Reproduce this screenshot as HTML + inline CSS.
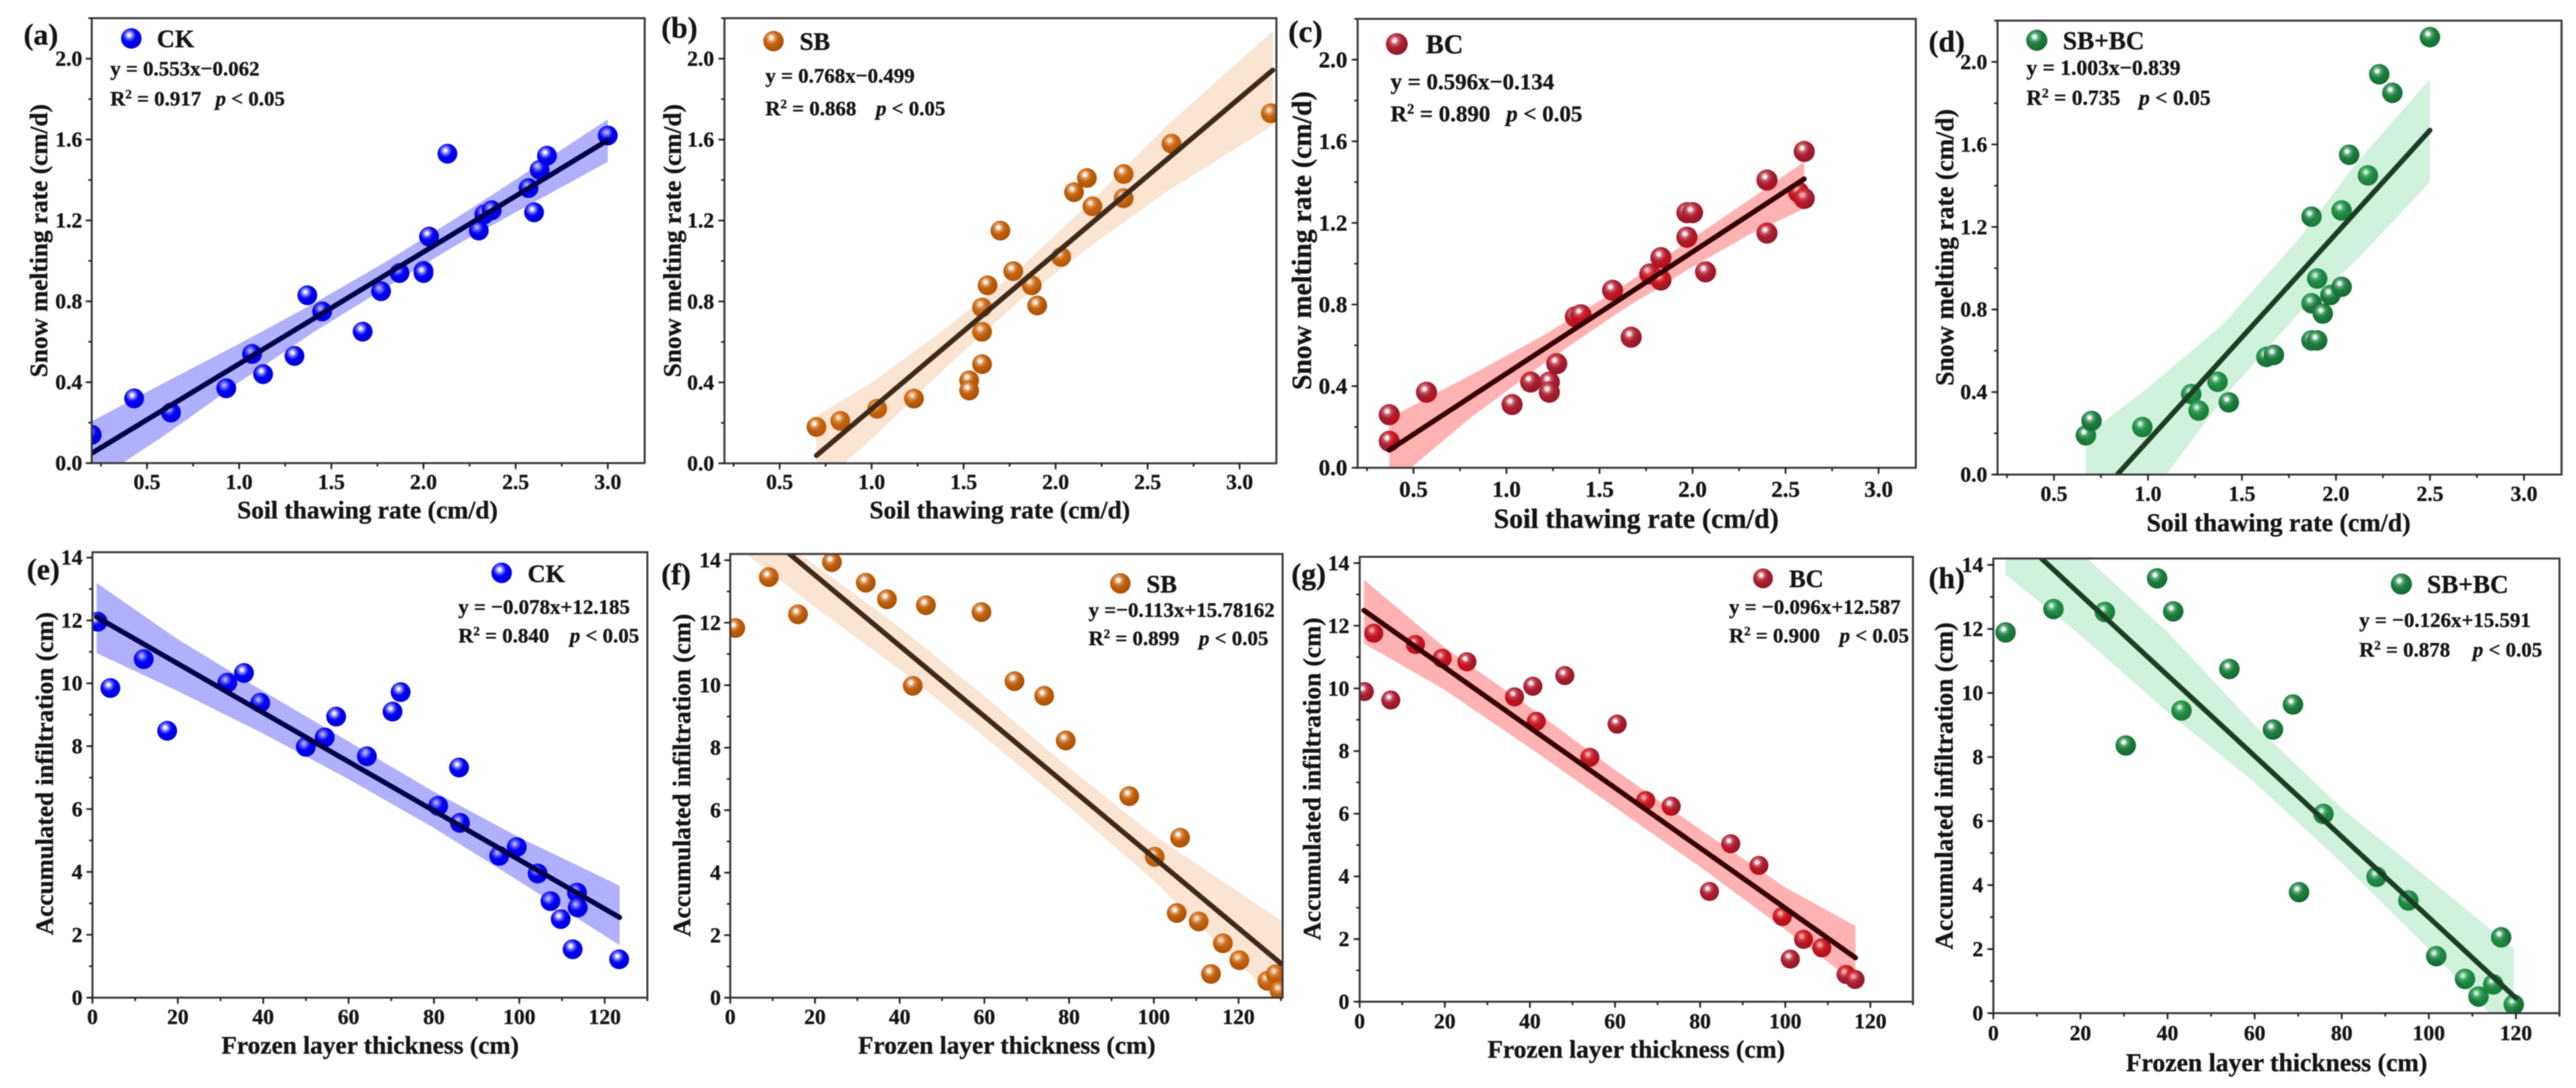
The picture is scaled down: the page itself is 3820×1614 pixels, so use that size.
<!DOCTYPE html>
<html lang="en">
<head>
<meta charset="utf-8">
<title>Snow melting and infiltration regressions</title>
<style>
html,body{margin:0;padding:0;background:#fff;width:3820px;height:1614px;overflow:hidden}
svg{display:block;filter:blur(0.8px)}
text{font-family:"Liberation Serif","Times New Roman",serif;font-weight:bold;fill:#151515;stroke:#151515;stroke-width:0.45px}
</style>
</head>
<body>
<svg id="figure" xmlns="http://www.w3.org/2000/svg" width="3820" height="1614" viewBox="0 0 3820 1614">
<defs id="defs"></defs>
</svg>
<script>
// ---- shared tick labels
const thawTicks = ['0.5','1.0','1.5','2.0','2.5','3.0'];
const meltTicks = ['0.0','0.4','0.8','1.2','1.6','2.0'];
const frozenTicks = ['0','20','40','60','80','100','120'];
const infilTicks = ['0','2','4','6','8','10','12','14'];

// ---- (a) CK
const aX = [0.2,0.43,0.63,0.93,1.07,1.13,1.3,1.37,1.45,1.67,1.77,1.87,2.0,2.0,2.03,2.13,2.3,2.33,2.37,2.57,2.6,2.63,2.67,3.0];
const aY = [0.14,0.32,0.25,0.37,0.54,0.44,0.53,0.83,0.75,0.65,0.85,0.94,0.95,0.94,1.12,1.53,1.15,1.23,1.25,1.36,1.24,1.45,1.52,1.62];
const aBandX = [0.2,0.6,1.0,1.4,1.8,2.2,2.6,3.0];
const aBandHi = [0.207,0.40,0.59,0.787,0.998,1.225,1.461,1.70];
const aBandLo = [-0.10,0.14,0.40,0.645,0.87,1.09,1.29,1.49];
const aFit = [0.553,-0.062];
const aFitRange = [0.2,3.0];

// ---- (b) SB
const bX = [0.7,0.83,1.03,1.23,1.53,1.53,1.6,1.6,1.6,1.63,1.7,1.77,1.87,1.9,2.03,2.1,2.17,2.2,2.37,2.37,2.63,3.17];
const bY = [0.18,0.21,0.27,0.32,0.41,0.36,0.49,0.65,0.77,0.88,1.15,0.95,0.88,0.78,1.02,1.34,1.41,1.27,1.31,1.43,1.58,1.73];
const bBandX = [0.7,1.0,1.4,1.8,2.2,2.6,3.18];
const bBandHi = [0.233,0.40,0.665,0.96,1.30,1.665,2.136];
const bBandLo = [-0.12,0.12,0.47,0.80,1.08,1.34,1.67];
const bFit = [0.768,-0.499];
const bFitRange = [0.7,3.18];

// ---- (c) BC
const cX = [0.37,0.37,0.57,1.03,1.13,1.23,1.23,1.27,1.37,1.4,1.57,1.67,1.77,1.83,1.83,1.97,1.97,2.0,2.07,2.4,2.4,2.57,2.6,2.6];
const cY = [0.13,0.26,0.37,0.31,0.42,0.42,0.37,0.51,0.74,0.75,0.87,0.64,0.95,0.92,1.03,1.13,1.25,1.25,0.96,1.15,1.41,1.35,1.32,1.55];
const cBandX = [0.37,0.8,1.2,1.6,2.0,2.3,2.6];
const cBandHi = [0.244,0.45,0.65,0.875,1.125,1.31,1.50];
const cBandLo = [-0.09,0.24,0.51,0.76,0.985,1.14,1.27];
const cFit = [0.596,-0.134];
const cFitRange = [0.37,2.6];

// ---- (d) SB+BC
const dX = [0.67,0.7,0.97,1.23,1.27,1.37,1.43,1.63,1.67,1.87,1.9,1.87,1.93,1.9,1.97,2.03,1.87,2.03,2.07,2.17,2.23,2.3,2.5];
const dY = [0.19,0.26,0.23,0.39,0.31,0.45,0.35,0.57,0.58,0.65,0.65,0.83,0.78,0.95,0.87,0.91,1.25,1.28,1.55,1.45,1.94,1.85,2.12];
const dBandX = [0.67,1.0,1.4,1.8,2.1,2.5];
const dBandHi = [0.19,0.42,0.73,1.14,1.50,1.917];
const dBandLo = [-0.45,-0.12,0.37,0.78,1.03,1.417];
const dFit = [1.003,-0.839];
const dFitRange = [0.84,2.5];

// ---- (e) CK
const eX = [1.2,4.2,12,17.5,31.6,35.5,39.3,50,54.4,57.1,64.3,70.3,72.2,81,85.9,86.1,95.3,99.4,104.3,107.3,109.7,112.5,113.5,113.7,123.4];
const eY = [11.96,9.85,10.77,8.49,10.02,10.33,9.38,7.98,8.28,8.94,7.68,9.1,9.72,6.1,7.32,5.56,4.51,4.79,3.95,3.07,2.5,1.54,3.34,2.87,1.22];
const eBandX = [1,20,40,60,80,100,123.5];
const eBandHi = [13.19,11.4,9.75,8.15,6.55,5.1,3.56];
const eBandLo = [10.96,9.75,8.4,6.95,5.4,3.7,1.67];
const eFit = [-0.078,12.185];
const eFitRange = [1,123.5];

// ---- (f) SB
const fX = [1.2,9.1,16,24,32,37,43.1,46.2,59.3,67.1,74.1,79.2,94.2,100.2,106.2,105.4,110.6,113.5,116.3,120.2,126.8,128.8,129.7];
const fY = [11.83,13.46,12.27,13.94,13.28,12.75,9.98,12.56,12.34,10.13,9.66,8.23,6.45,4.51,5.12,2.71,2.44,0.76,1.74,1.2,0.54,0.75,0.22];
const fBandX = [0,20,40,60,80,100,130];
const fBandHi = [15.8,13.85,11.85,9.65,7.35,5.2,2.47];
const fBandLo = [14.6,12.5,10.5,8.35,6.1,3.75,-0.2];
const fFit = [-0.113,15.78162];
const fFitRange = [0,130];

// ---- (g) BC
const gX = [1.1,3.3,7.3,13.1,19.4,25.2,36.4,40.7,41.5,48.2,60.5,54.1,67.2,73.2,82.2,87.2,93.8,99.3,101.2,104.3,108.6,114.3,116.4];
const gY = [9.9,11.76,9.63,11.4,10.96,10.85,9.73,10.07,8.95,10.41,8.86,7.8,6.42,6.24,3.52,5.04,4.35,2.72,1.36,1.99,1.72,0.87,0.71];
const gBandX = [1,20,40,60,80,100,116.5];
const gBandHi = [13.47,11.3,9.4,7.4,5.5,3.65,2.42];
const gBandLo = [11.43,9.95,8.1,6.2,4.3,2.3,0.6];
const gFit = [-0.096,12.587];
const gFitRange = [1,116.5];

// ---- (h) SB+BC
const hX = [2.8,13.8,25.6,30.4,37.6,41.3,43.2,54.2,64.2,68.8,70.2,75.8,88,95.3,101.7,108.3,111.4,114.8,116.6,119.5];
const hY = [11.89,12.62,12.53,8.36,13.58,12.55,9.45,10.75,8.86,9.64,3.78,6.22,4.26,3.52,1.78,1.07,0.52,0.9,2.37,0.27];
const hBandX = [2.8,20,40,60,80,100,119.5];
const hBandHi = [16.2,14.4,11.9,9.0,6.4,4.2,2.02];
const hBandLo = [13.7,11.8,9.4,7.2,4.7,2.0,-0.8];
const hFit = [-0.126,15.591];
const hFitRange = [2.8,120];

// ---- palettes
const palettes = {
  blue:  {stops:['#f4f4ff','#6a6aff','#0000f0','#0000dc'], band:'rgb(0,0,245)',  bandAlpha:0.31, line:'#00004a'},
  brown: {stops:['#fffaf4','#dc9458','#bf600c','#ab5206'], band:'rgb(230,120,30)', bandAlpha:0.2, line:'#3e2a1a'},
  red:   {stops:['#fff8f8','#c85a68','#ac2032','#931828'], band:'rgb(255,0,0)',  bandAlpha:0.3, line:'#360000'},
  green: {stops:['#f6fff8','#58a476','#1e7e3e','#146c32'], band:'rgb(40,190,90)', bandAlpha:0.22, line:'#1a3d24'}
};

// ---- panel layouts (pixels on the page)
const panels = [
 {id:'a',tag:'(a)',group:'CK',pal:'blue',X:aX,Y:aY,bx:aBandX,hi:aBandHi,lo:aBandLo,fit:aFit,fr:aFitRange,
  box:[136,27,956,687],dx:[0.2,3.2],dy:[0,2.2],xt:thawTicks,yt:meltTicks,xminor:0.25,yminor:0.2,xlab:'Soil thawing rate (cm/d)',ylab:'Snow melting rate (cm/d)',
  eq:'y = 0.553x\u22120.062',r2:' = 0.917',
  tagAt:[35,66],legM:[194.7,57],legT:[232.6,70],eqAt:[163.5,112,156.6],pX:319.6,xtA:[545,769],ytA:[70,357],tickY:122,tickX:725.5,
  fs:{tick:32,title:37.5,eq:31,leg:37,tag:44},r:14.7},
 {id:'b',tag:'(b)',group:'SB',pal:'brown',X:bX,Y:bY,bx:bBandX,hi:bBandHi,lo:bBandLo,fit:bFit,fr:bFitRange,
  box:[1074.3,27,1892.8,687.3],dx:[0.2,3.2],dy:[0,2.2],xt:thawTicks,yt:meltTicks,xminor:0.25,yminor:0.2,xlab:'Soil thawing rate (cm/d)',ylab:'Snow melting rate (cm/d)',
  eq:'y = 0.768x\u22120.499',r2:' = 0.868',
  tagAt:[980.6,56],legM:[1147,61],legT:[1185.7,74],eqAt:[1135,122.4,171],pX:1299,xtA:[1482.6,769],ytA:[1009.4,357],tickY:1059,tickX:725.5,
  fs:{tick:32,title:37.5,eq:31,leg:37,tag:44},r:14.7},
 {id:'c',tag:'(c)',group:'BC',pal:'red',X:cX,Y:cY,bx:cBandX,hi:cBandHi,lo:cBandLo,fit:cFit,fr:cFitRange,
  box:[2013.3,28,2841,693.9],dx:[0.2,3.2],dy:[0,2.2],xt:thawTicks,yt:meltTicks,xminor:0.25,yminor:0.2,xlab:'Soil thawing rate (cm/d)',ylab:'Snow melting rate (cm/d)',
  eq:'y = 0.596x\u22120.134',r2:' = 0.890',
  tagAt:[1910.4,62],legM:[2071.4,65.3],legT:[2114.3,79],eqAt:[2062,132.7,180],pX:2233.6,xtA:[2426.5,783],ytA:[1944,357],tickY:1998,tickX:737,
  fs:{tick:34,title:41,eq:34,leg:40,tag:46},r:15.7},
 {id:'d',tag:'(d)',group:'SB+BC',pal:'green',X:dX,Y:dY,bx:dBandX,hi:dBandHi,lo:dBandLo,fit:dFit,fr:dFitRange,
  box:[2962.2,30.6,3798.6,704],dx:[0.2,3.2],dy:[0,2.2],xt:thawTicks,yt:meltTicks,xminor:0.25,yminor:0.2,xlab:'Soil thawing rate (cm/d)',ylab:'Snow melting rate (cm/d)',
  eq:'y = 1.003x\u22120.839',r2:' = 0.735',
  tagAt:[2860,76.5],legM:[3020.4,59.7],legT:[3059,73],eqAt:[3005,111,155.6],pX:3172,xtA:[3379,788],ytA:[2896.7,367],tickY:2947,tickX:743,
  fs:{tick:32,title:38,eq:32,leg:38,tag:44},r:15.2},
 {id:'e',tag:'(e)',group:'CK',pal:'blue',X:eX,Y:eY,bx:eBandX,hi:eBandHi,lo:eBandLo,fit:eFit,fr:eFitRange,
  box:[137.1,819.2,960,1480],dx:[0,130],dy:[0,14.17],xt:frozenTicks,yt:infilTicks,xminor:10,yminor:1,xlab:'Frozen layer thickness (cm)',ylab:'Accumulated infiltration (cm)',
  eq:'y = \u22120.078x+12.185',r2:' = 0.840',
  tagAt:[39.8,859.7],legM:[743.9,849.8],legT:[782.4,863.3],eqAt:[679.6,910.5,953],pX:845,xtA:[549,1563],ytA:[78.4,1147.7],tickY:122.4,tickX:1519,
  fs:{tick:32,title:37.5,eq:31,leg:37,tag:44},r:14.7},
 {id:'f',tag:'(f)',group:'SB',pal:'brown',X:fX,Y:fY,bx:fBandX,hi:fBandHi,lo:fBandLo,fit:fFit,fr:fFitRange,
  box:[1082.9,821.8,1902,1480],dx:[0,130.4],dy:[0,14.2],xt:frozenTicks,yt:infilTicks,xminor:10,yminor:1,xlab:'Frozen layer thickness (cm)',ylab:'Accumulated infiltration (cm)',
  eq:'y =\u22120.113x+15.78162',r2:' = 0.899',
  tagAt:[980.6,866.4],legM:[1661.4,865.4],legT:[1700,879],eqAt:[1614.2,915,957],pX:1778,xtA:[1493,1563],ytA:[1023.5,1150],tickY:1069,tickX:1519,
  fs:{tick:32,title:37.5,eq:31,leg:37,tag:44},r:14.7},
 {id:'g',tag:'(g)',group:'BC',pal:'red',X:gX,Y:gY,bx:gBandX,hi:gBandHi,lo:gBandLo,fit:gFit,fr:gFitRange,
  box:[2016.3,826,2836.7,1486],dx:[0,130],dy:[0,14.2],xt:frozenTicks,yt:infilTicks,xminor:10,yminor:1,xlab:'Frozen layer thickness (cm)',ylab:'Accumulated infiltration (cm)',
  eq:'y = \u22120.096x+12.587',r2:' = 0.900',
  tagAt:[1915,866.4],legM:[2614.4,858],legT:[2653,871],eqAt:[2564,910.5,953],pX:2728,xtA:[2426.5,1569],ytA:[1958,1155.5],tickY:2001,tickX:1525.6,
  fs:{tick:32,title:37.5,eq:31,leg:37,tag:44},r:14.2},
 {id:'h',tag:'(h)',group:'SB+BC',pal:'green',X:hX,Y:hY,bx:hBandX,hi:hBandHi,lo:hBandLo,fit:hFit,fr:hFitRange,
  box:[2956,828.5,3795.5,1503],dx:[0,130],dy:[0,14.2],xt:frozenTicks,yt:infilTicks,xminor:10,yminor:1,xlab:'Frozen layer thickness (cm)',ylab:'Accumulated infiltration (cm)',
  eq:'y = \u22120.126x+15.591',r2:' = 0.878',
  tagAt:[2860,872.7],legM:[3561,866.4],legT:[3599,879.4],eqAt:[3498.5,929.8,973.9],pX:3667,xtA:[3376,1589],ytA:[2895.5,1166],tickY:2941,tickX:1543,
  fs:{tick:32,title:38,eq:31,leg:38,tag:44},r:15.2}
];

const NS = 'http://www.w3.org/2000/svg';
const svg = document.getElementById('figure');
const defs = document.getElementById('defs');
function make(parent, tag, attrs, txt){
  const n = document.createElementNS(NS, tag);
  for (const k in attrs) n.setAttribute(k, attrs[k]);
  if (txt !== undefined) n.textContent = txt;
  parent.appendChild(n);
  return n;
}

// sphere gradients
Object.keys(palettes).forEach(function(name){
  const p = palettes[name];
  const g = make(defs,'radialGradient',{id:'sphere-'+name,cx:'0.4',cy:'0.34',r:'0.62',fx:'0.4',fy:'0.34'});
  make(g,'stop',{offset:'0',  'stop-color':p.stops[0]});
  make(g,'stop',{offset:'0.1','stop-color':p.stops[0]});
  make(g,'stop',{offset:'0.3','stop-color':p.stops[1]});
  make(g,'stop',{offset:'0.55','stop-color':p.stops[2]});
  make(g,'stop',{offset:'1',  'stop-color':p.stops[3]});
});

panels.forEach(function(P){
  const pal = palettes[P.pal];
  const L=P.box[0],T=P.box[1],R=P.box[2],B=P.box[3];
  const sx = function(v){ return L + (v-P.dx[0])/(P.dx[1]-P.dx[0])*(R-L); };
  const sy = function(v){ return B - (v-P.dy[0])/(P.dy[1]-P.dy[0])*(B-T); };

  const group = make(svg,'g',{});
  
  

  const clip = make(defs,'clipPath',{id:'clip-'+P.id});
  make(clip,'rect',{x:L,y:T,width:R-L,height:B-T});

  const plot = make(group,'g',{'clip-path':'url(#clip-'+P.id+')'});
  
  

  // scatter points
  P.X.forEach(function(xv,i){
    const pt = make(plot,'circle',{cx:sx(xv).toFixed(1),cy:sy(P.Y[i]).toFixed(1),r:P.r,fill:'url(#sphere-'+P.pal+')'});
    
    
  });

  // confidence band
  let d = '';
  P.bx.forEach(function(xv,i){ d += (i?'L':'M')+sx(xv).toFixed(1)+' '+sy(P.hi[i]).toFixed(1); });
  for (let i=P.bx.length-1;i>=0;i--){ d += 'L'+sx(P.bx[i]).toFixed(1)+' '+sy(P.lo[i]).toFixed(1); }
  const band = make(plot,'path',{d:d+'Z',fill:pal.band,'fill-opacity':pal.bandAlpha});
  
  

  // fit line
  const fitY = function(x){ return P.fit[0]*x + P.fit[1]; };
  const fitLine = make(plot,'line',{x1:sx(P.fr[0]),y1:sy(fitY(P.fr[0])),x2:sx(P.fr[1]),y2:sy(fitY(P.fr[1])),stroke:pal.line,'stroke-width':7.5,'stroke-linecap':'round'});
  
  

  // frame
  const frame = make(group,'rect',{x:L,y:T,width:R-L,height:B-T,fill:'none',stroke:'#3a3a3a','stroke-width':3});
  
  

  // x ticks
  const xAxis = make(group,'g',{stroke:'#222','stroke-width':2.5});
  
  
  P.xt.forEach(function(lbl){
    const v = parseFloat(lbl);
    make(xAxis,'line',{x1:sx(v),x2:sx(v),y1:B,y2:B+9});
    const tl = make(group,'text',{x:sx(v),y:P.tickX,'text-anchor':'middle','font-size':P.fs.tick},lbl);
    
    
  });
  for (let v=Math.ceil(P.dx[0]/P.xminor)*P.xminor; v<=P.dx[1]+1e-6; v+=P.xminor){
    make(xAxis,'line',{x1:sx(v),x2:sx(v),y1:B,y2:B+5});
  }

  // y ticks
  const yAxis = make(group,'g',{stroke:'#222','stroke-width':2.5});
  
  
  P.yt.forEach(function(lbl){
    const v = parseFloat(lbl);
    make(yAxis,'line',{x1:L-9,x2:L,y1:sy(v),y2:sy(v)});
    const tl = make(group,'text',{x:P.tickY,y:sy(v)+P.fs.tick*0.33,'text-anchor':'end','font-size':P.fs.tick},lbl);
    
    
  });
  for (let v=P.dy[0]; v<=P.dy[1]+1e-6; v+=P.yminor){
    make(yAxis,'line',{x1:L-5,x2:L,y1:sy(v),y2:sy(v)});
  }

  // titles
  const xTitle = make(group,'text',{x:P.xtA[0],y:P.xtA[1],'text-anchor':'middle','font-size':P.fs.title},P.xlab);
  
  
  const yTitle = make(group,'text',{transform:'translate('+P.ytA[0]+' '+P.ytA[1]+') rotate(-90)','text-anchor':'middle','font-size':P.fs.title},P.ylab);
  
  

  // panel tag
  const tag = make(group,'text',{x:P.tagAt[0],y:P.tagAt[1],'font-size':P.fs.tag},P.tag);
  
  

  // legend
  const legend = make(group,'g',{});
  
  
  const legMark = make(legend,'circle',{cx:P.legM[0],cy:P.legM[1],r:P.r+0.5,fill:'url(#sphere-'+P.pal+')'});
  
  
  const legText = make(legend,'text',{x:P.legT[0],y:P.legT[1],'font-size':P.fs.leg},P.group);
  
  

  // equation
  const eq = make(group,'text',{x:P.eqAt[0],y:P.eqAt[1],'font-size':P.fs.eq},P.eq);
  
  
  const stat = make(group,'text',{x:P.eqAt[0],y:P.eqAt[2],'font-size':P.fs.eq});
  
  
  make(stat,'tspan',{},'R');
  make(stat,'tspan',{'font-size':P.fs.eq*0.62,dy:-P.fs.eq*0.34},'2');
  make(stat,'tspan',{dy:P.fs.eq*0.34},P.r2);
  make(stat,'tspan',{x:P.pX,'font-style':'italic'},'p');
  make(stat,'tspan',{},' < 0.05');
});
</script>
</body>
</html>
